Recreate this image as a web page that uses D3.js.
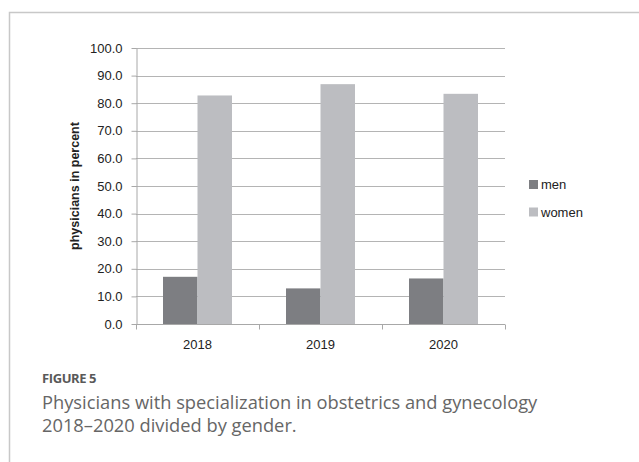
<!DOCTYPE html>
<html>
<head>
<meta charset="utf-8">
<script src="https://cdn.jsdelivr.net/npm/d3@7"></script>
<style>
  body { margin: 0; background: #fff; }
  svg { display: block; }
</style>
</head>
<body>
<script>
var wW = 639;
var wH = 462;

// data
var years = ["2018", "2019", "2020"];
var men = [17.1, 12.9, 16.5];
var women = [82.8, 86.9, 83.4];
var seriesNames = ["men", "women"];
var yTicks = [0, 10, 20, 30, 40, 50, 60, 70, 80, 90, 100];

var colors = { men: "#7d7e82", women: "#bcbdc1" };

var svg = d3.select("body").append("svg")
  .attr("width", wW)
  .attr("height", wH);

// frame (left + top rules)
svg.append("path")
  .attr("d", "M9.5," + wH + " V12.5 H" + wW)
  .attr("fill", "none")
  .attr("stroke", "#c8c8c8")
  .attr("stroke-width", 1.5);

var plot = { left: 136, right: 505, top: 48, bottom: 324 };

var x = d3.scaleBand()
  .domain(years)
  .range([plot.left, plot.right]);

var y = d3.scaleLinear()
  .domain([0, 100])
  .range([plot.bottom, plot.top]);

var barW = 34.5;
var inner = d3.scaleBand()
  .domain(seriesNames)
  .range([0, barW * 2]);

// gridlines
svg.append("g")
  .selectAll("line")
  .data(yTicks.slice(1))
  .enter().append("line")
  .attr("x1", plot.left)
  .attr("x2", plot.right)
  .attr("y1", function(d) { return Math.round(y(d)) + 0.5; })
  .attr("y2", function(d) { return Math.round(y(d)) + 0.5; })
  .attr("stroke", "#b4b4b4")
  .attr("stroke-width", 1);

// bars
var rows = years.map(function(yr, i) {
  return { year: yr, men: men[i], women: women[i] };
});

var groups = svg.append("g")
  .selectAll("g")
  .data(rows)
  .enter().append("g")
  .attr("transform", function(d) {
    return "translate(" + (x(d.year) + x.bandwidth() / 2 - barW) + ",0)";
  });

groups.selectAll("rect")
  .data(function(d) { return seriesNames.map(function(s) { return { key: s, value: d[s] }; }); })
  .enter().append("rect")
  .attr("x", function(d) { return inner(d.key); })
  .attr("width", inner.bandwidth())
  .attr("y", function(d) { return y(d.value); })
  .attr("height", function(d) { return y(0) - y(d.value); })
  .attr("fill", function(d) { return colors[d.key]; });

// y axis
var yAxis = d3.axisLeft(y)
  .tickValues(yTicks)
  .tickFormat(d3.format(".1f"))
  .tickSizeInner(5)
  .tickSizeOuter(0)
  .tickPadding(9);

var gy = svg.append("g")
  .attr("transform", "translate(" + (plot.left + 0.5) + ",0)")
  .call(yAxis);
gy.select(".domain").attr("stroke", "#a8a8a8");
gy.selectAll(".tick line").attr("stroke", "#a8a8a8");
gy.selectAll("text")
  .attr("font-family", "Liberation Sans, Arial, sans-serif")
  .attr("font-size", 13)
  .attr("fill", "#222");

// x axis
var gx = svg.append("g")
  .attr("transform", "translate(0," + (plot.bottom + 0.5) + ")");
gx.append("line")
  .attr("x1", plot.left)
  .attr("x2", plot.right)
  .attr("stroke", "#a8a8a8");
gx.selectAll("line.sep")
  .data(years.concat(["end"]))
  .enter().append("line")
  .attr("class", "sep")
  .attr("x1", function(d, i) { return plot.left + i * x.bandwidth() + 0.5; })
  .attr("x2", function(d, i) { return plot.left + i * x.bandwidth() + 0.5; })
  .attr("y1", 0)
  .attr("y2", 5)
  .attr("stroke", "#a8a8a8");
gx.selectAll("text")
  .data(years)
  .enter().append("text")
  .attr("x", function(d) { return x(d) + x.bandwidth() / 2; })
  .attr("y", 24)
  .attr("text-anchor", "middle")
  .attr("font-family", "Liberation Sans, Arial, sans-serif")
  .attr("font-size", 13)
  .attr("fill", "#222")
  .text(function(d) { return d; });

// y axis title
svg.append("text")
  .attr("transform", "translate(79," + ((plot.top + plot.bottom) / 2) + ") rotate(-90)")
  .attr("text-anchor", "middle")
  .attr("font-family", "Liberation Sans, Arial, sans-serif")
  .attr("font-size", 12.5)
  .attr("font-weight", "bold")
  .attr("fill", "#222")
  .text("physicians in percent");

// legend
var legend = svg.append("g")
  .attr("transform", "translate(529,180)");
var items = legend.selectAll("g")
  .data(seriesNames)
  .enter().append("g")
  .attr("transform", function(d, i) { return "translate(0," + (i * 27.5) + ")"; });
items.append("rect")
  .attr("width", 9)
  .attr("height", 9)
  .attr("fill", function(d) { return colors[d]; });
items.append("text")
  .attr("x", 12)
  .attr("y", 9)
  .attr("font-family", "Liberation Sans, Arial, sans-serif")
  .attr("font-size", 13)
  .attr("fill", "#222")
  .text(function(d) { return d; });

// caption
svg.append("text")
  .attr("x", 42)
  .attr("y", 383)
  .attr("font-family", "Open Sans, sans-serif")
  .attr("font-size", 13)
  .attr("font-weight", 700)
  .attr("letter-spacing", -0.4)
  .attr("fill", "#595959")
  .text("FIGURE 5");

var captionLines = [
  "Physicians with specialization in obstetrics and gynecology",
  "2018\u20132020 divided by gender."
];
svg.append("g").selectAll("text")
  .data(captionLines)
  .enter().append("text")
  .attr("x", 42)
  .attr("y", function(d, i) { return 408.5 + i * 23.5; })
  .attr("font-family", "Open Sans, sans-serif")
  .attr("font-size", 18.3)
  .attr("fill", "#666")
  .text(function(d) { return d; });
</script>
</body>
</html>
